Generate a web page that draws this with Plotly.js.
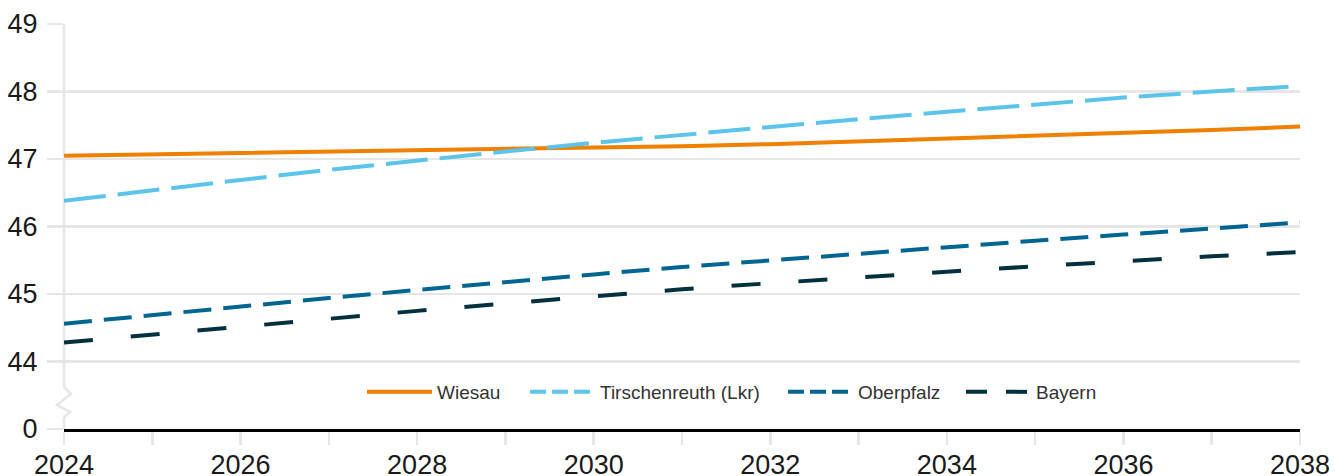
<!DOCTYPE html>
<html>
<head>
<meta charset="utf-8">
<script src="https://cdn.plot.ly/plotly-3.0.1.min.js"></script>
<style>html,body{margin:0;padding:0;background:#fff;}#chart{width:1335px;height:476px;}</style>
</head>
<body>
<div id="chart"></div>
<script>
// ---- data ----
const years = [2024,2025,2026,2027,2028,2029,2030,2031,2032,2033,2034,2035,2036,2037,2038];
const wiesau = [47.05,47.07,47.09,47.11,47.12,47.14,47.16,47.19,47.22,47.26,47.30,47.35,47.39,47.43,47.48];
const tirschenreuth = [46.38,46.54,46.69,46.84,46.98,47.11,47.24,47.36,47.48,47.59,47.70,47.81,47.91,48.00,48.08];
const oberpfalz = [44.56,44.69,44.82,44.94,45.06,45.18,45.29,45.40,45.50,45.60,45.70,45.79,45.88,45.97,46.06];
const bayern = [44.28,44.40,44.52,44.64,44.75,44.86,44.97,45.07,45.16,45.25,45.33,45.41,45.49,45.56,45.62];
const seriesNames = ['Wiesau','Tirschenreuth (Lkr)','Oberpfalz','Bayern'];
const yTickValues = [0,44,45,46,47,48,49];
const xTickYears = [2024,2026,2028,2030,2032,2034,2036,2038];

// broken axis: 0 is shown one step below 44
const BREAK = 43;
const toAxis = v => (v === 0 ? 0 : v - BREAK);

const colors = ['#f08000','#5cc4ea','#006591','#02303f'];
const dashes = ['solid','42px,12px','28px,12px','29px,38px'];
const legendDashes = ['solid','16px,6px','16px,6px','21px,19px'];
const seriesVals = [wiesau, tirschenreuth, oberpfalz, bayern];
const legendIds = ['legend','legend2','legend3','legend4'];

const traces = seriesVals.map((vals,i)=>({
  type:'scatter', mode:'lines', name:seriesNames[i], showlegend:false,
  x: years, y: vals.map(toAxis),
  line:{color:colors[i], width:4, dash:dashes[i]},
  hoverinfo:'skip'
}));
// legend entries (no marks of their own)
seriesNames.forEach((n,i)=>{
  traces.push({type:'scatter', mode:'lines', name:n, legend:legendIds[i], showlegend:true,
    x:[null], y:[null], line:{color:colors[i], width:4, dash:legendDashes[i]}, hoverinfo:'skip'});
});

// plot area in pixels (for the axis break decoration and legend placement)
const W = 1236, H = 405, L = 64;
const px = d => d / W, py = d => d / H;
const gridCol = '#e6e6e6';
const shapes = [
  {type:'line', xref:'paper', yref:'paper', x0:0, x1:0, y0:0, y1:py(12), line:{color:gridCol,width:2.5}, layer:'below'},
  {type:'path', xref:'paper', yref:'paper', layer:'below', line:{color:gridCol,width:2.5},
   path:`M${px(0)},${py(12)} L${px(6)},${py(17)} L${px(-7)},${py(24)} L${px(7)},${py(35)} L${px(0)},${py(42)}`},
  {type:'line', xref:'paper', yref:'paper', x0:0, x1:0, y0:py(42), y1:1, line:{color:gridCol,width:2.5}, layer:'below'}
];

const legendLeftPx = [362, 525, 783, 961];
const legendStyle = x => ({orientation:'h', x:px(x - L), y:py(37), xanchor:'left', yanchor:'middle',
  font:{size:19, color:'#333'}, itemwidth:65, bgcolor:'rgba(0,0,0,0)'});

const layout = {
  width:1335, height:476,
  margin:{l:64, r:35, t:24, b:47},
  paper_bgcolor:'#fff', plot_bgcolor:'#fff',
  font:{family:'"Liberation Sans", Arial, sans-serif', color:'#1a1a1a'},
  showlegend:true,
  legend:legendStyle(legendLeftPx[0]),
  legend2:legendStyle(legendLeftPx[1]),
  legend3:legendStyle(legendLeftPx[2]),
  legend4:legendStyle(legendLeftPx[3]),
  xaxis:{range:[2024,2038], tickvals:xTickYears, ticktext:xTickYears.map(String),
         ticks:'outside', ticklen:13, tickwidth:2.5, tickcolor:gridCol, ticklabelstandoff:-3,
         minor:{dtick:1, tick0:2024, ticks:'outside', ticklen:13, tickwidth:2.5, tickcolor:gridCol, showgrid:false},
         showgrid:false, zeroline:false, showline:true, linecolor:'#000', linewidth:2.5,
         tickfont:{size:27, color:'#1a1a1a'}, fixedrange:true},
  yaxis:{range:[0,6], tickvals:yTickValues.map(toAxis), ticktext:yTickValues.map(String),
         ticks:'outside', ticklen:16, tickwidth:2.5, tickcolor:gridCol, ticklabelstandoff:4,
         showgrid:true, gridcolor:gridCol, gridwidth:2.5, zeroline:false, showline:false,
         tickfont:{size:27, color:'#1a1a1a'}, fixedrange:true},
  shapes: shapes
};

Plotly.newPlot('chart', traces, layout, {displayModeBar:false, staticPlot:true});
</script>
</body>
</html>
